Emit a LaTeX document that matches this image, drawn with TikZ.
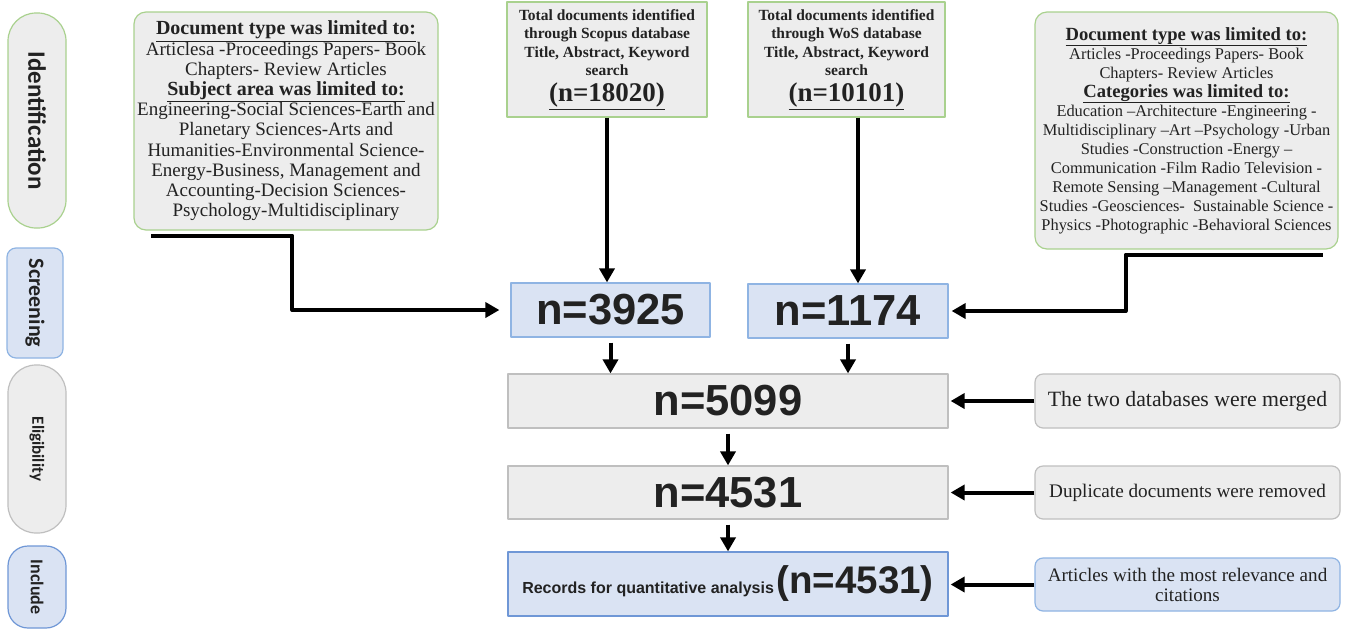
\documentclass[tikz,border=0pt]{standalone}
\usepackage{fontspec}
\setmainfont{Liberation Serif}
\newfontfamily\arial{Liberation Sans}
\newfontfamily\calib{Carlito}
\usetikzlibrary{arrows.meta}
\definecolor{fgray}{HTML}{EDEDED}
\definecolor{lgray}{HTML}{BFBFBF}
\definecolor{fblue}{HTML}{DAE3F3}
\definecolor{lblue}{HTML}{8FB4E3}
\definecolor{dblue}{HTML}{6F97D6}
\definecolor{lgreen}{HTML}{A9D18E}
\definecolor{txt}{HTML}{222222}
\begin{document}
\begin{tikzpicture}[x=1pt,y=-1pt,line join=round,>={Triangle[length=14pt,width=15pt]},
	graybox/.style={draw=lgray,fill=fgray,line width=1.2pt,inner sep=0pt,align=center,text=txt},
	bluebox/.style={graybox,draw=lblue,fill=fblue},
	greenbox/.style={graybox,draw=lgreen},
	pill/.style={rotate=-90,inner sep=0pt,line width=1.2pt,text=txt},
	big/.style={font=\arial\bfseries\fontsize{43.5}{45}\selectfont},
	flow/.style={->,line width=4pt}]
	\useasboundingbox (0,0) rectangle (1346,630);
	% stages
	\node[pill,draw=lgreen,fill=fgray,rounded corners=28pt,minimum width=215pt,minimum height=58pt,
		font=\calib\bfseries\fontsize{25}{28}\selectfont] (ident) at (37,120.5) {Identification};
	\node[pill,draw=lblue,fill=fblue,rounded corners=9pt,minimum width=110pt,minimum height=56pt,
		font=\calib\bfseries\fontsize{22}{24}\selectfont] (screen) at (35,303) {Screening};
	\node[pill,draw=lgray,fill=fgray,rounded corners=28pt,minimum width=168pt,minimum height=58pt,
		font=\calib\bfseries\fontsize{17}{20}\selectfont] (elig) at (37,449) {Eligibility};
	\node[pill,draw=dblue,fill=fblue,rounded corners=20pt,minimum width=82pt,minimum height=58pt,
		font=\calib\bfseries\fontsize{18}{20}\selectfont] (incl) at (37,587) {Include};
	% sources
	\node[greenbox,rounded corners=12pt,minimum width=304pt,minimum height=218pt,
		font=\fontsize{19}{20.2}\selectfont] (docl) at (286,121)
		{{\fontsize{20}{20.2}\selectfont\textbf{\underline{Document type was limited to:}}}\\
		Articlesa -Proceedings Papers- Book\\
		Chapters- Review Articles\\
		{\fontsize{20}{20.2}\selectfont\textbf{\underline{Subject area was limited to:}}}\\
		Engineering-Social Sciences-Earth and\\
		Planetary Sciences-Arts and\\
		Humanities-Environmental Science-\\
		Energy-Business, Management and\\
		Accounting-Decision Sciences-\\
		Psychology-Multidisciplinary};
	\node[greenbox,minimum width=200pt,minimum height=115pt,
		font=\bfseries\fontsize{15.5}{18.5}\selectfont] (scopus) at (607,59.5)
		{Total documents identified\\ through Scopus database\\ Title, Abstract, Keyword\\ search\\[6pt]
		{\fontsize{27}{30}\selectfont\underline{(n=18020)}}};
	\node[greenbox,minimum width=197pt,minimum height=115pt,
		font=\bfseries\fontsize{15.5}{18.5}\selectfont] (wos) at (846.5,59.5)
		{Total documents identified\\ through WoS database\\ Title, Abstract, Keyword\\ search\\[6pt]
		{\fontsize{27}{30}\selectfont\underline{(n=10101)}}};
	\node[greenbox,rounded corners=12pt,minimum width=303pt,minimum height=237pt,
		font=\fontsize{16.4}{19}\selectfont] (docr) at (1186.5,130.5)
		{{\fontsize{18.6}{20}\selectfont\textbf{\underline{Document type was limited to:}}}\\
		Articles -Proceedings Papers- Book\\
		Chapters- Review Articles\\
		{\fontsize{18.6}{20}\selectfont\textbf{\underline{Categories was limited to:}}}\\
		Education --Architecture -Engineering -\\
		Multidisciplinary --Art --Psychology -Urban\\
		Studies -Construction -Energy --\\
		Communication -Film Radio Television -\\
		Remote Sensing --Management -Cultural\\
		Studies -Geosciences- \ Sustainable Science -\\
		Physics -Photographic -Behavioral Sciences};
	% counts
	\node[bluebox,big,minimum width=199pt,minimum height=54pt] (n3925) at (610.5,310) {n=3925};
	\node[bluebox,big,minimum width=200pt,minimum height=54pt] (n1174) at (848,311) {n=1174};
	\node[graybox,big,minimum width=440pt,minimum height=54pt] (n5099) at (728,401) {n=5099};
	\node[graybox,big,minimum width=440pt,minimum height=53pt] (n4531) at (728,492.5) {n=4531};
	\node[bluebox,draw=dblue,minimum width=440pt,minimum height=64pt] (records) at (728,584)
		{{\arial\bfseries\fontsize{16}{18}\selectfont Records for quantitative analysis}
		{\arial\bfseries\fontsize{38.5}{40}\selectfont (n=4531)}};
	% notes
	\node[graybox,rounded corners=8pt,minimum width=305pt,minimum height=54pt,
		font=\fontsize{21.8}{24}\selectfont] (merged) at (1187.5,401) {The two databases were merged};
	\node[graybox,rounded corners=8pt,minimum width=305pt,minimum height=53pt,
		font=\fontsize{19.2}{22}\selectfont] (dup) at (1187.5,492.5) {Duplicate documents were removed};
	\node[bluebox,rounded corners=8pt,minimum width=305pt,minimum height=53pt,
		font=\fontsize{19.1}{20}\selectfont] (arts) at (1187.5,584.5)
		{Articles with the most relevance and\\ citations};
	% connectors
	\coordinate (ls) at ([xshift=18pt,yshift=-5pt]docl.south west);
	\coordinate (rs) at ([xshift=-16pt,yshift=-5pt]docr.south east);
	\draw[flow] (ls) -- ++(141,0) |- ([xshift=-11pt]n3925.west);
	\draw[flow] (rs) -- ++(-197,0) |- ([xshift=3pt]n1174.east);
	\draw[flow] (scopus.south) -- (scopus.south |- n3925.north);
	\draw[flow] ([xshift=11.5pt]wos.south) -- ([xshift=11.5pt]wos.south |- n1174.north);
	\foreach \a/\b in {n3925/n5099,n1174/n5099,n5099/n4531,n4531/records}
	{\draw[flow,shorten <=5pt] (\a.south) -- (\a.south |- \b.north);}
	\foreach \a/\b in {merged/n5099,dup/n4531,arts/records}
	{\draw[flow] (\a.west) -- ([xshift=2pt]\a.west -| \b.east);}
\end{tikzpicture}
\end{document}
